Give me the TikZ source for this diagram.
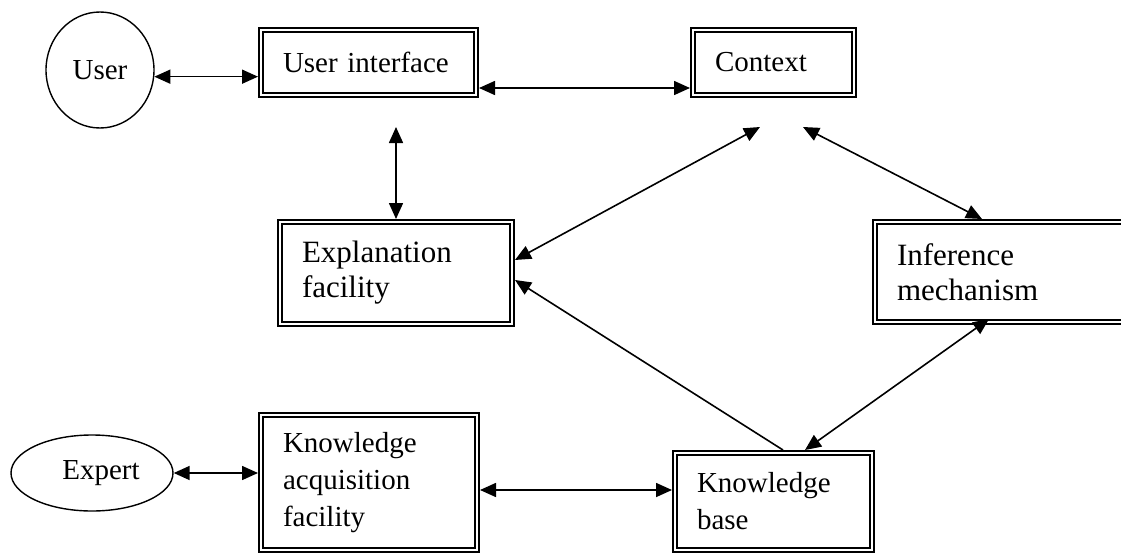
\documentclass[tikz,border=0pt]{standalone}
\usepackage{fontspec}
\setmainfont{Liberation Serif}
\usetikzlibrary{arrows.meta,calc,shapes.geometric}
\begin{document}
\begin{tikzpicture}[x=1pt,y=-1pt,
  dbox/.style={draw, double, line width=2pt, double distance=1.6pt, outer sep=2.8pt,
    inner xsep=22.2pt, inner ysep=0pt, align=left, font=\fontsize{29}{37}\selectfont},
  bigtext/.style={font=\fontsize{31}{35}\selectfont},
  oval/.style={draw, ellipse, line width=1.4pt, inner sep=0pt, font=\fontsize{29}{37}\selectfont},
  arr/.style={line width=1.6pt, {Triangle[length=16pt,width=14pt]}-{Triangle[length=16pt,width=14pt]}},
  sarr/.style={line width=1.6pt, -{Triangle[length=16pt,width=14pt]}}]
\useasboundingbox (0,0) rectangle (1121,554);

\node[oval, minimum width=108pt, minimum height=116pt] (user) at (100,70) {User};
\node[oval, minimum width=162pt, minimum height=76pt] (expert) at (92,473) {\hspace*{18pt}Expert};

\node[dbox, minimum width=215.4pt, minimum height=65.4pt, text width=171pt] (ui) at (368.5,62.5) {User interface};
\node[dbox, minimum width=161.4pt, minimum height=65.4pt, text width=117pt] (ctx) at (773.5,62.5) {Context};
\node[dbox, bigtext, minimum width=232.4pt, minimum height=102.4pt, text width=188pt] (expl) at (396,273) {Explanation\\facility};
\node[dbox, bigtext, minimum width=262.4pt, minimum height=100.4pt, text width=218pt] (inf) at (1006,272) {Inference\\mechanism};
\node[dbox, minimum width=216.4pt, minimum height=135.4pt, text width=172pt] (kaf) at (369,482.5) {Knowledge\\acquisition\\facility};
\node[dbox, minimum width=197.4pt, minimum height=97.4pt, text width=153pt] (kb) at (773.5,501.5) {Knowledge\\base};

\coordinate (t1) at (396,127);
\coordinate (t2) at (760,127);
\coordinate (t3) at (803,127);

\draw[arr] (user.-7) -- (user.-7 -| ui.west);
\draw[arr] ([yshift=-25.5pt]ui.east) -- ([yshift=-25.5pt]ctx.west);
\draw[arr] (t1) -- (expl.north);
\draw[arr] (t2) -- ([yshift=13pt]expl.east);
\draw[sarr] ([xshift=9.5pt]kb.north) -- ([yshift=-7pt]expl.east);
\draw[arr] (t3) -- ([xshift=-24pt]inf.north);
\draw[arr] ([xshift=-17pt,yshift=6pt]inf.south) -- ([xshift=31.5pt]kb.north);
\draw[arr] ([yshift=-7.5pt]kaf.east) -- ([yshift=11.5pt]kb.west);
\draw[arr] (expert.east) -- (expert.east -| kaf.west);
\end{tikzpicture}
\end{document}
